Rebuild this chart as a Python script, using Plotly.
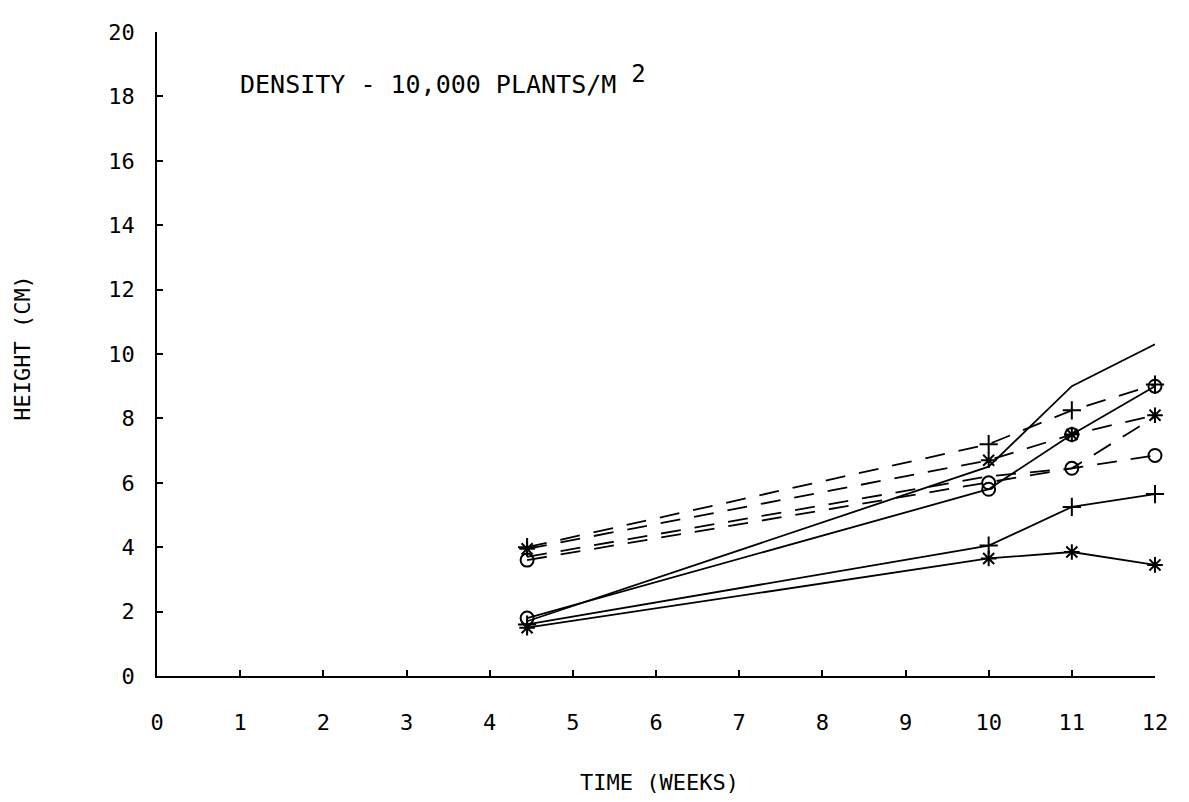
import plotly.graph_objects as go

weeks = [4.45, 10, 11, 12]
solid_plain = [1.7, 6.5, 9.0, 10.3]
solid_circle = [1.8, 5.8, 7.5, 9.0]
solid_plus = [1.6, 4.05, 5.25, 5.65]
solid_star = [1.5, 3.65, 3.85, 3.45]
dash_plus = [4.0, 7.2, 8.25, 9.05]
dash_star = [3.95, 6.7, 7.5, 8.1]
dash_plain = [3.7, 6.2, 6.45, 8.05]
dash_circle = [3.6, 6.0, 6.45, 6.85]

x_ticks = list(range(0, 13))
y_ticks = list(range(0, 21, 2))

FONT = "DejaVu Sans Mono"
series = [
    (solid_plain, "solid", None),
    (solid_circle, "solid", "circle-open"),
    (solid_plus, "solid", "cross-thin-open"),
    (solid_star, "solid", "asterisk-open"),
    (dash_plus, "20px,14px", "cross-thin-open"),
    (dash_star, "20px,14px", "asterisk-open"),
    (dash_plain, "20px,14px", None),
    (dash_circle, "20px,14px", "circle-open"),
]

fig = go.Figure()
for vals, dash, sym in series:
    fig.add_trace(go.Scatter(
        x=weeks, y=vals,
        mode="lines+markers" if sym else "lines",
        line=dict(color="black", width=1.8, dash=dash),
        marker=dict(symbol=sym or "circle", size=13, color="black",
                    line=dict(color="black", width=2)),
        cliponaxis=False, showlegend=False,
    ))

fig.update_layout(
    width=1181, height=794,
    margin=dict(l=149, r=34, t=24, b=126),
    paper_bgcolor="white", plot_bgcolor="white",
    font=dict(family=FONT, color="black", size=22),
    xaxis=dict(range=[0, 12], tickvals=x_ticks, ticktext=[str(v) for v in x_ticks],
               ticks="inside", ticklen=6, tickwidth=1.8, tickcolor="black",
               showline=True, linecolor="black", linewidth=1.8,
               showgrid=False, zeroline=False, ticklabelstandoff=26,
               tickfont=dict(family=FONT, size=22)),
    yaxis=dict(range=[0, 20], tickvals=y_ticks, ticktext=[str(v) for v in y_ticks],
               ticks="inside", ticklen=6, tickwidth=1.8, tickcolor="black",
               showline=True, linecolor="black", linewidth=1.8,
               showgrid=False, zeroline=False, ticklabelstandoff=16,
               tickfont=dict(family=FONT, size=22)),
    annotations=[
        dict(text="TIME (WEEKS)", xref="paper", yref="paper", x=0.504, y=-0.165,
             xanchor="center", yanchor="middle", showarrow=False,
             font=dict(family=FONT, size=22)),
        dict(text="HEIGHT (CM)", xref="paper", yref="paper", x=-0.135, y=0.51,
             xanchor="center", yanchor="middle", showarrow=False, textangle=-90,
             font=dict(family=FONT, size=22)),
        dict(text="DENSITY - 10,000 PLANTS/M <sup><span style='font-size:24px'>2</span></sup>",
             xref="paper", yref="paper",
             x=0.081, y=0.893, xanchor="left", yanchor="bottom", showarrow=False,
             font=dict(family=FONT, size=25)),
    ],
)

fig.write_html("out.html")
